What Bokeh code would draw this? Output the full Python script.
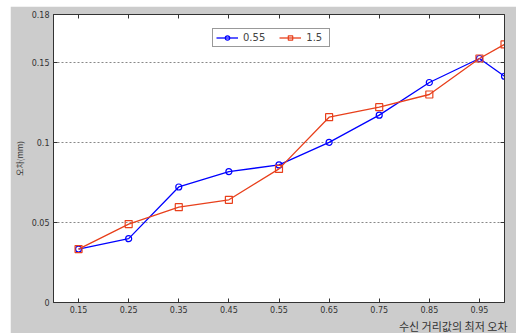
from bokeh.plotting import figure
from bokeh.models import (FixedTicker, LinearAxis, Range1d, Title, Legend, LegendItem,
                          ColumnDataSource, Spacer)
from bokeh.layouts import column, row
from bokeh.embed import file_html
from bokeh.resources import INLINE

x_vals = [0.15, 0.25, 0.35, 0.45, 0.55, 0.65, 0.75, 0.85, 0.95, 1.0]
s055 = [0.0334, 0.0399, 0.0722, 0.0818, 0.0860, 0.1001, 0.1171, 0.1375, 0.1525, 0.1414]
s15 = [0.0334, 0.0490, 0.0596, 0.0642, 0.0835, 0.1158, 0.1221, 0.1300, 0.1525, 0.1613]
x_ticks = [0.15, 0.25, 0.35, 0.45, 0.55, 0.65, 0.75, 0.85, 0.95]
y_ticks = [0, 0.05, 0.1, 0.15, 0.18]
y_tick_labels = ["0", "0.05", "0.1", "0.15", "0.18"]
series_names = ["0.55", "1.5"]
x_title = "수신 거리값의 최저 오차"
y_title = "오차(mm)"

BG = "#cccccc"
FONT = "DejaVu Sans"
KFONT = "Noto Sans CJK KR"

p = figure(width=506, height=327, output_backend="svg", toolbar_location=None,
           x_range=Range1d(0.10, 1.0), y_range=Range1d(0, 0.18),
           min_border_left=43, min_border_right=12, min_border_top=8, min_border_bottom=30)
p.background_fill_color = "white"
p.border_fill_color = BG
p.outline_line_color = "#333333"
p.outline_line_width = 1

p.xgrid.visible = False
p.ygrid.ticker = FixedTicker(ticks=[0.05, 0.1, 0.15])
p.ygrid.grid_line_color = "#888888"
p.ygrid.grid_line_dash = "2 2"
p.ygrid.grid_line_width = 1

def style_axis(ax):
    ax.axis_line_color = "#333333"
    ax.major_tick_line_color = "#333333"
    ax.major_tick_in = 4
    ax.major_tick_out = 0
    ax.minor_tick_line_color = None
    ax.major_label_text_font = FONT
    ax.major_label_text_font_size = "8px"
    ax.major_label_text_color = "#333333"
    ax.major_label_standoff = 4

p.xaxis.ticker = FixedTicker(ticks=x_ticks)
style_axis(p.xaxis[0])
p.xaxis.major_label_standoff = 3
p.yaxis.ticker = FixedTicker(ticks=y_ticks)
p.yaxis.major_label_overrides = {t: l for t, l in zip(y_ticks, y_tick_labels)}
style_axis(p.yaxis[0])
p.yaxis.axis_label = y_title
p.yaxis.axis_label_text_font = KFONT
p.yaxis.axis_label_text_font_size = "8px"
p.yaxis.axis_label_text_font_style = "normal"
p.yaxis.axis_label_text_color = "#333333"
p.yaxis.axis_label_standoff = 4

top = LinearAxis(ticker=FixedTicker(ticks=x_ticks))
style_axis(top)
top.major_label_overrides = {t: "" for t in x_ticks}
top.major_label_standoff = 0
p.add_layout(top, "above")
right_ticks = [0.05, 0.1, 0.15]
right = LinearAxis(ticker=FixedTicker(ticks=right_ticks))
style_axis(right)
right.major_label_overrides = {t: "" for t in right_ticks}
right.major_label_standoff = 0
p.add_layout(right, "right")

src = ColumnDataSource(dict(x=x_vals, a=s055, b=s15))
l1 = p.line("x", "a", source=src, line_color="#0000ff", line_width=1.3)
m1 = p.scatter("x", "a", source=src, marker="circle", size=6, line_color="#0000ff",
               fill_color=None, line_width=1.2)
l2 = p.line("x", "b", source=src, line_color="#e8401c", line_width=1.3)
m2 = p.scatter("x", "b", source=src, marker="square", size=7, line_color="#e8401c",
               fill_color=None, line_width=1.2)

legend = Legend(items=[LegendItem(label=series_names[0], renderers=[l1, m1]),
                       LegendItem(label=series_names[1], renderers=[l2, m2])],
                orientation="horizontal", location=(159, 255))
legend.border_line_color = "#333333"
legend.background_fill_alpha = 1
legend.label_text_font = FONT
legend.label_text_font_size = "10px"
legend.label_height = 11
legend.glyph_height = 11
legend.glyph_width = 22
legend.padding = 3
legend.spacing = 14
legend.margin = 0
legend.label_standoff = 5
legend.item_background_fill_alpha = 0
p.add_layout(legend, "center")

xt = Title(text=x_title, align="right", text_font=KFONT, text_font_size="11px",
           text_font_style="normal", text_color="#333333", standoff=0, offset=-3)
p.add_layout(xt, "below")

layout = column(Spacer(height=6, width=516),
                row(Spacer(width=10, height=327), p))
open("out.html", "w").write(file_html(layout, INLINE))
